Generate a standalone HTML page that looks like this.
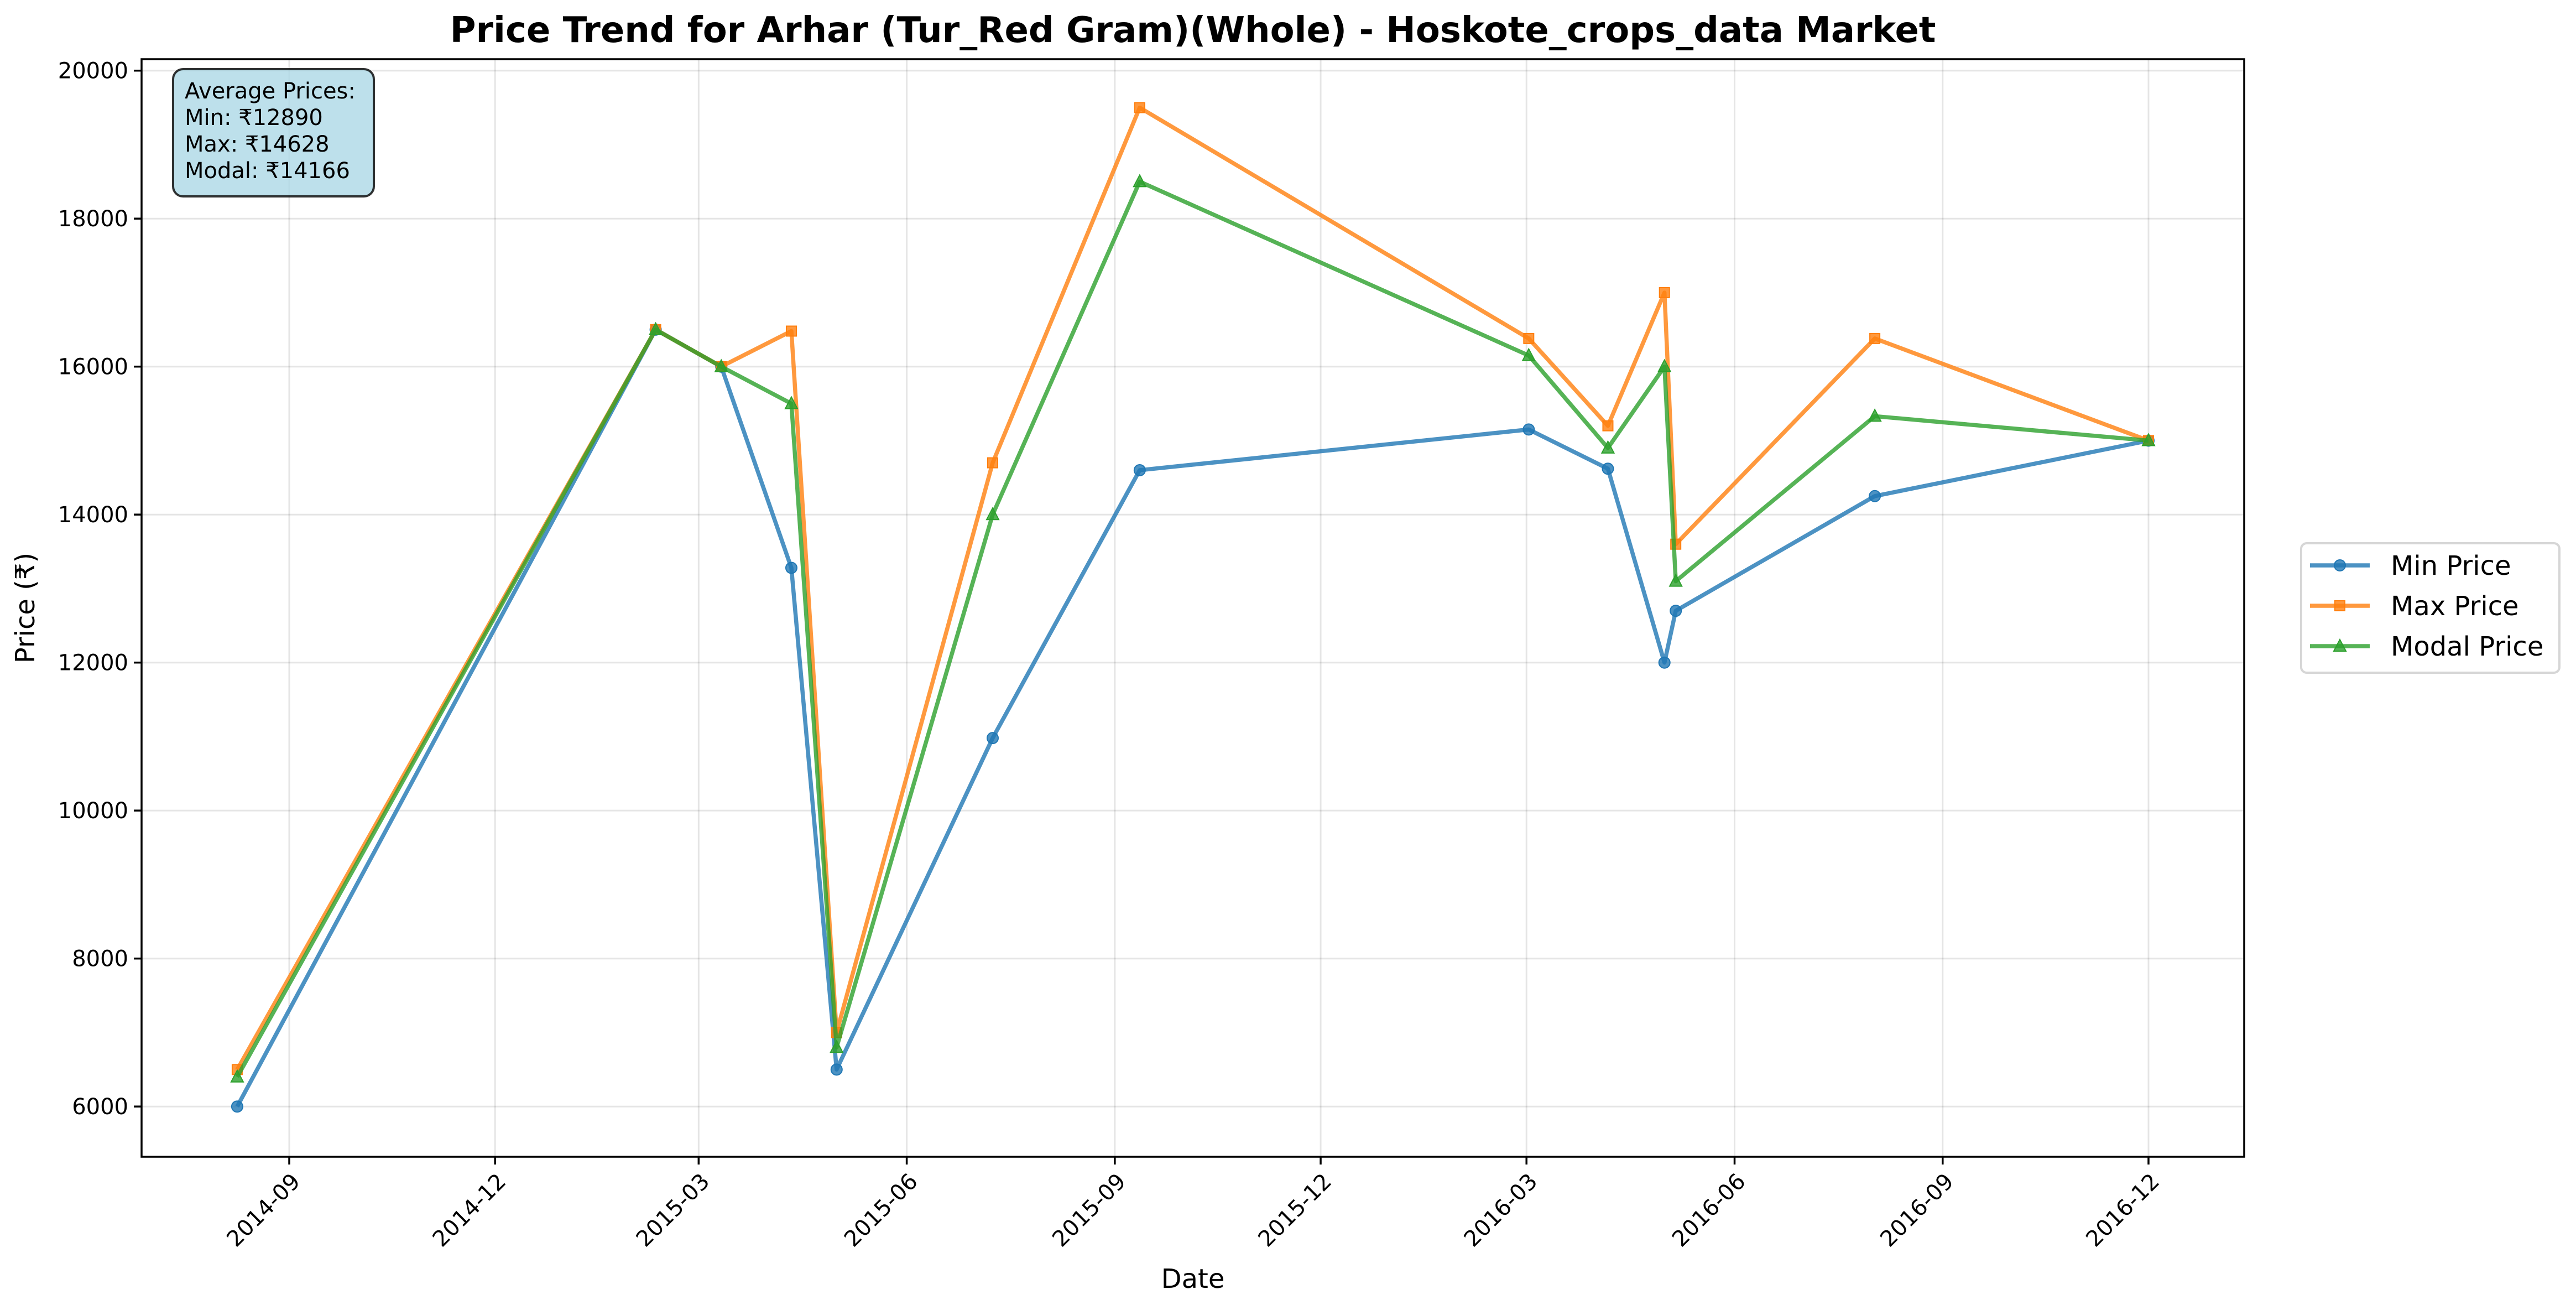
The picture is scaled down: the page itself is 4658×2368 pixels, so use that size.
<!DOCTYPE html>
<html><head><meta charset="utf-8"><style>
html,body{margin:0;padding:0;background:#fff}
svg{display:block;font-family:"DejaVu Sans","Liberation Sans",sans-serif}
</style></head><body>
<svg id="chart" width="4658" height="2368" viewBox="0 0 4658 2368">
<rect width="4658" height="2368" fill="#fff"/>
<text x="2157" y="76" font-size="64" font-weight="bold" text-anchor="middle">Price Trend for Arhar (Tur_Red Gram)(Whole) - Hoskote_crops_data Market</text>
<g id="grid"></g>
<g id="series"></g>
<rect x="256" y="107" width="3802" height="1984" fill="none" stroke="#000" stroke-width="3.5"/>
<g id="axes"></g>
<text x="2157" y="2328" font-size="48" text-anchor="middle">Date</text>
<text transform="translate(62,1099) rotate(-90)" font-size="48" text-anchor="middle">Price (₹)</text>
<g>
<rect x="313" y="125" width="363" height="230" rx="18" fill="#add8e6" fill-opacity="0.8" stroke="#000" stroke-opacity="0.8" stroke-width="4"/>
<text font-size="40" x="334" y="178">Average Prices:</text>
<text font-size="40" x="334" y="226">Min: ₹12890</text>
<text font-size="40" x="334" y="274">Max: ₹14628</text>
<text font-size="40" x="334" y="322">Modal: ₹14166</text>
</g>
<g>
<rect x="4161" y="982" width="467" height="234" rx="10" fill="#fff" stroke="#d6d6d6" stroke-width="4"/>
<g id="legend-items"></g>
</g>
</svg>
<script>
const dates = ["2014-08-09","2015-02-10","2015-03-11","2015-04-11","2015-05-01","2015-07-09","2015-09-12","2016-03-02","2016-04-06","2016-05-01","2016-05-06","2016-08-02","2016-12-01"];
const minPrice = [6000,16500,16000,13280,6500,10980,14600,15150,14620,12000,12700,14250,15000];
const maxPrice = [6500,16500,16000,16480,7000,14700,19500,16380,15200,17000,13600,16380,15000];
const modalPrice = [6400,16500,16000,15500,6800,14000,18500,16150,14900,16000,13100,15330,15000];
const yTicks = [6000,8000,10000,12000,14000,16000,18000,20000];
const xTicks = ["2014-09","2014-12","2015-03","2015-06","2015-09","2015-12","2016-03","2016-06","2016-09","2016-12"];

const NS="http://www.w3.org/2000/svg";
const base=Date.UTC(2014,8,1);
function days(s){const p=s.split("-").map(Number);return (Date.UTC(p[0],p[1]-1,p[2]||1)-base)/86400000;}
function xs(s){return 523+days(s)*4.09;}
function ys(v){return 127.7+(20000-v)*0.13375;}
function mk(tag,attrs,parent){const e=document.createElementNS(NS,tag);for(const k in attrs)e.setAttribute(k,attrs[k]);parent.appendChild(e);return e;}
const grid=document.getElementById("grid"),axes=document.getElementById("axes"),ser=document.getElementById("series");
yTicks.forEach(v=>{const y=ys(v);
 const g=mk("line",{x1:256,x2:4058,y1:y,y2:y,stroke:"#000","stroke-opacity":0.1,"stroke-width":3},grid);
 
 
 mk("line",{x1:242,x2:256,y1:y,y2:y,stroke:"#000","stroke-width":3.5},axes);
 const t=mk("text",{x:232,y:y+14,"font-size":40,"text-anchor":"end"},axes);t.textContent=v;
 
 
});
xTicks.forEach(s=>{const x=xs(s);
 const g=mk("line",{x1:x,x2:x,y1:107,y2:2091,stroke:"#000","stroke-opacity":0.1,"stroke-width":3},grid);
 
 
 mk("line",{x1:x,x2:x,y1:2091,y2:2105,stroke:"#000","stroke-width":3.5},axes);
 const t=mk("text",{transform:`translate(${x+22},2138) rotate(-45)`,"font-size":40,"text-anchor":"end"},axes);t.textContent=s;
 
 
});
function marker(type,x,y,col,parent){
 let m;
 if(type==="o") m=mk("circle",{cx:x,cy:y,r:10,fill:col,"fill-opacity":0.8,stroke:col,"stroke-width":2},parent);
 else if(type==="s") m=mk("rect",{x:x-9,y:y-9,width:18,height:18,fill:col,"fill-opacity":0.8,stroke:col,"stroke-width":2},parent);
 else m=mk("polygon",{points:`${x},${y-12} ${x-11},${y+9} ${x+11},${y+9}`,fill:col,"fill-opacity":0.8,stroke:col,"stroke-width":2},parent);
 return m;
}
const series=[["min-price",minPrice,"#1f77b4","o","Min Price"],["max-price",maxPrice,"#ff7f0e","s","Max Price"],["modal-price",modalPrice,"#2ca02c","^","Modal Price"]];
series.forEach(([name,vals,col,mt])=>{
 const g=mk("g",{},ser);
 
 
 const pts=vals.map((v,i)=>xs(dates[i])+","+ys(v)).join(" ");
 const pl=mk("polyline",{points:pts,fill:"none",stroke:col,"stroke-opacity":0.8,"stroke-width":7.5,"stroke-linejoin":"round"},g);
 
 
 vals.forEach((v,i)=>{const m=marker(mt,xs(dates[i]),ys(v),col,g);
  
  });
});
const li=document.getElementById("legend-items");
series.forEach(([name,vals,col,mt,label],i)=>{const y=1022+i*73;
 const g=mk("g",{},li);
 
 
 mk("line",{x1:4177,x2:4285,y1:y,y2:y,stroke:col,"stroke-opacity":0.8,"stroke-width":7.5},g);
 marker(mt,4231,y,col,g);
 const t=mk("text",{x:4323,y:y+17,"font-size":48},g);t.textContent=label;
});
</script>
</body></html>
